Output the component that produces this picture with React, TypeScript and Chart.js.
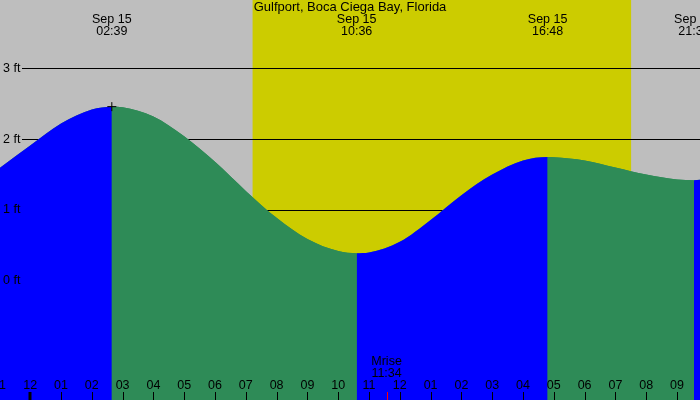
import { useEffect, useRef } from 'react';
import { Chart, registerables } from 'chart.js';

Chart.register(...registerables);

const TITLE = 'Gulfport, Boca Ciega Bay, Florida';
const DATE_LABEL = 'Sep 15';

// hours since midnight Sep 15 and the water level (ft)
const HOURS = [-1, 0, 1, 2, 2.65, 3, 4, 5, 6, 7, 8, 9, 10, 10.6, 11, 12, 13, 14, 15, 16, 16.8, 17, 18, 19, 20, 21, 21.55, 22];
const LEVELS = [1.59, 1.91, 2.22, 2.42, 2.46, 2.45, 2.32, 2.04, 1.68, 1.27, 0.89, 0.59, 0.42, 0.39, 0.4, 0.55, 0.86, 1.21, 1.5, 1.7, 1.75, 1.745, 1.7, 1.6, 1.5, 1.43, 1.42, 1.44];

// high / low tide events
const EXTREME_HOURS = [2.65, 10.6, 16.8, 21.55];
const EXTREME_TIMES = ['02:39', '10:36', '16:48', '21:33'];

const SUNRISE = 7.22;
const SUNSET = 19.51;
const MOONRISE = 11.57;
const MOONRISE_TIME = '11:34';

const NOW_HOUR = 2.65;
const NOW_LEVEL = 2.46;

const GRID_FT = [0, 1, 2, 3];
const HOUR_TICKS = [-1, 0, 1, 2, 3, 4, 5, 6, 7, 8, 9, 10, 11, 12, 13, 14, 15, 16, 17, 18, 19, 20, 21, 22];
const HOUR_LABELS = ['11', '12', '01', '02', '03', '04', '05', '06', '07', '08', '09', '10', '11', '12', '01', '02', '03', '04', '05', '06', '07', '08', '09', '10'];

const NIGHT = '#BEBEBE';
const DAY = '#CCCC00';
const FLOOD = '#0000FF';
const EBB = '#2E8B57';
const FONT = '"Liberation Sans", Arial, sans-serif';

const tidePlugin = {
  id: 'tideDecor',
  beforeDraw(chart: any) {
    const { ctx, width, height } = chart;
    const { x, y } = chart.scales;
    ctx.save();
    ctx.fillStyle = NIGHT;
    ctx.fillRect(0, 0, width, height);
    const x0 = x.getPixelForValue(SUNRISE);
    const x1 = x.getPixelForValue(SUNSET);
    ctx.fillStyle = DAY;
    ctx.fillRect(x0, 0, x1 - x0, height);

    // grid lines
    ctx.strokeStyle = '#000';
    ctx.lineWidth = 1;
    GRID_FT.forEach((v) => {
      const py = Math.round(y.getPixelForValue(v)) + 0.5;
      ctx.beginPath();
      ctx.moveTo(22, py);
      ctx.lineTo(width, py);
      ctx.stroke();
    });

    // title + tide event labels
    ctx.fillStyle = '#000';
    ctx.textAlign = 'center';
    ctx.textBaseline = 'middle';
    ctx.font = `13px ${FONT}`;
    ctx.fillText(TITLE, width / 2, 7.5);
    ctx.font = `12.5px ${FONT}`;
    EXTREME_HOURS.forEach((h, i) => {
      const px = x.getPixelForValue(h);
      ctx.fillText(DATE_LABEL, px, 19.5);
      ctx.fillText(EXTREME_TIMES[i], px, 31.5);
    });
    ctx.restore();
  },
  afterDatasetsDraw(chart: any) {
    const { ctx, height } = chart;
    const { x, y } = chart.scales;
    ctx.save();
    ctx.fillStyle = '#000';
    ctx.font = `12.5px ${FONT}`;
    ctx.textBaseline = 'middle';

    // level labels
    ctx.textAlign = 'left';
    GRID_FT.forEach((v) => {
      ctx.fillText(`${v} ft`, 3, y.getPixelForValue(v));
    });

    // hour ticks
    ctx.textAlign = 'center';
    ctx.strokeStyle = '#000';
    HOUR_TICKS.forEach((h, i) => {
      const px = x.getPixelForValue(h);
      ctx.fillText(HOUR_LABELS[i], px, 386);
      ctx.lineWidth = h % 24 === 0 ? 3 : 1;
      const lx = h % 24 === 0 ? Math.round(px) : Math.round(px) + 0.5;
      ctx.beginPath();
      ctx.moveTo(lx, 392);
      ctx.lineTo(lx, height);
      ctx.stroke();
    });

    // moonrise
    const mx = x.getPixelForValue(MOONRISE);
    ctx.fillText('Mrise', mx, 361.5);
    ctx.fillText(MOONRISE_TIME, mx, 373.5);
    ctx.strokeStyle = '#FF0000';
    ctx.lineWidth = 1;
    ctx.beginPath();
    ctx.moveTo(Math.round(mx) + 0.5, 392);
    ctx.lineTo(Math.round(mx) + 0.5, height);
    ctx.stroke();
    ctx.restore();
  },
};

export default function App() {
  const canvasRef = useRef<HTMLCanvasElement>(null);

  useEffect(() => {
    if (!canvasRef.current) return;
    const points = HOURS.map((h, i) => ({ x: h, y: LEVELS[i] }));
    const chart = new Chart(canvasRef.current, {
      type: 'line',
      data: {
        datasets: [
          {
            // "now" marker
            data: [{ x: NOW_HOUR, y: NOW_LEVEL }],
            showLine: false,
            pointStyle: 'cross',
            pointRadius: 4.5,
            borderColor: '#000',
            borderWidth: 1,
            fill: false,
            order: 0,
          },
          {
            // rising = blue, falling = green
            data: points,
            borderWidth: 0,
            borderColor: 'transparent',
            backgroundColor: FLOOD,
            pointRadius: 0,
            cubicInterpolationMode: 'monotone',
            fill: 'start',
            order: 1,
            segment: {
              backgroundColor: (c: any) => (c.p1.parsed.y >= c.p0.parsed.y ? FLOOD : EBB),
            },
          },
          {
            // underlay so segment joins leave no seams
            data: points,
            borderWidth: 0,
            borderColor: 'transparent',
            backgroundColor: EBB,
            pointRadius: 0,
            cubicInterpolationMode: 'monotone',
            fill: 'start',
            order: 2,
          },
        ],
      },
      options: {
        animation: false,
        responsive: true,
        maintainAspectRatio: false,
        events: [],
        layout: { padding: 0, autoPadding: false },
        plugins: { legend: { display: false }, tooltip: { enabled: false } },
        scales: {
          x: { type: 'linear', display: false, min: -0.9805, max: 21.747 },
          y: { type: 'linear', display: false, min: -1.6836, max: 3.966 },
        },
      },
      plugins: [tidePlugin],
    } as any);
    return () => chart.destroy();
  }, []);

  return (
    <div style={{ position: 'fixed', left: 0, top: 0, width: 700, height: 400 }}>
      <canvas ref={canvasRef} />
    </div>
  );
}
